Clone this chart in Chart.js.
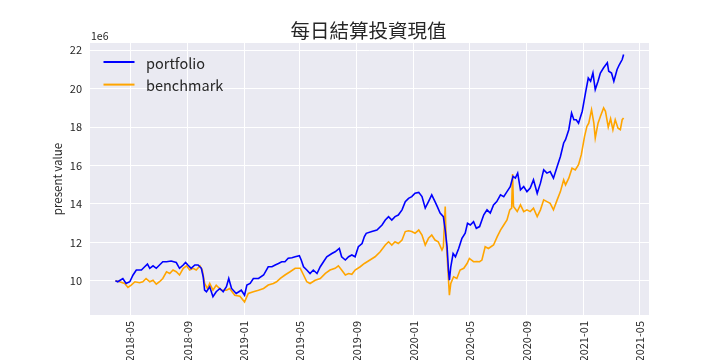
<!DOCTYPE html>
<html><head><meta charset="utf-8">
<script src="https://cdn.jsdelivr.net/npm/chart.js@4.4.1/dist/chart.umd.min.js"></script>
<style>html,body{margin:0;padding:0;background:#fff}canvas{display:block}</style>
</head><body>
<canvas id="c" width="720" height="360"></canvas>
<script>
const chartTitle = '每日結算投資現值';
const yAxisLabel = 'present value';
const yOffsetLabel = '1e6';
const seriesNames = ['portfolio', 'benchmark'];
const xTickLabels = ['2018-05','2018-09','2019-01','2019-05','2019-09','2020-01','2020-05','2020-09','2021-01','2021-05'];
const yTickValues = [10, 12, 14, 16, 18, 20, 22];

// values in units of 1e6
const portfolioDates = ['2018-03-30','2018-04-04','2018-04-15','2018-04-22','2018-04-30','2018-05-07','2018-05-14','2018-05-25','2018-06-01','2018-06-07','2018-06-12','2018-06-19','2018-06-26','2018-07-03','2018-07-10','2018-07-18','2018-07-28','2018-08-08','2018-08-15','2018-08-23','2018-08-28','2018-09-02','2018-09-09','2018-09-17','2018-09-24','2018-10-01','2018-10-05','2018-10-08','2018-10-12','2018-10-19','2018-10-26','2018-11-02','2018-11-10','2018-11-17','2018-11-24','2018-11-29','2018-12-05','2018-12-15','2018-12-26','2019-01-02','2019-01-07','2019-01-14','2019-01-21','2019-02-01','2019-02-12','2019-02-22','2019-03-02','2019-03-09','2019-03-16','2019-03-23','2019-03-30','2019-04-06','2019-04-14','2019-04-21','2019-04-30','2019-05-04','2019-05-09','2019-05-16','2019-05-23','2019-05-30','2019-06-07','2019-06-14','2019-06-21','2019-06-28','2019-07-09','2019-07-16','2019-07-25','2019-07-30','2019-08-07','2019-08-14','2019-08-21','2019-08-28','2019-09-04','2019-09-12','2019-09-17','2019-09-21','2019-10-03','2019-10-14','2019-10-25','2019-11-01','2019-11-08','2019-11-15','2019-11-22','2019-11-29','2019-12-07','2019-12-14','2019-12-21','2019-12-28','2020-01-04','2020-01-12','2020-01-19','2020-01-26','2020-02-02','2020-02-09','2020-02-16','2020-02-21','2020-02-27','2020-03-05','2020-03-09','2020-03-13','2020-03-16','2020-03-18','2020-03-21','2020-03-26','2020-03-31','2020-04-07','2020-04-14','2020-04-21','2020-04-26','2020-05-02','2020-05-09','2020-05-15','2020-05-22','2020-05-31','2020-06-07','2020-06-14','2020-06-21','2020-06-28','2020-07-06','2020-07-13','2020-07-20','2020-07-27','2020-08-02','2020-08-07','2020-08-12','2020-08-18','2020-08-25','2020-09-01','2020-09-08','2020-09-15','2020-09-23','2020-09-30','2020-10-07','2020-10-14','2020-10-21','2020-10-28','2020-11-05','2020-11-12','2020-11-19','2020-11-23','2020-11-30','2020-12-06','2020-12-11','2020-12-16','2020-12-21','2020-12-29','2021-01-05','2021-01-11','2021-01-16','2021-01-21','2021-01-26','2021-02-01','2021-02-06','2021-02-13','2021-02-21','2021-02-24','2021-03-02','2021-03-07','2021-03-14','2021-03-19','2021-03-25','2021-03-28'];
const portfolioValues = [10.00,9.95,10.12,9.86,9.95,10.30,10.56,10.56,10.73,10.87,10.65,10.78,10.65,10.82,10.99,10.99,11.03,10.95,10.65,10.82,10.95,10.82,10.65,10.82,10.82,10.65,10.21,9.51,9.43,9.69,9.17,9.43,9.60,9.43,9.69,10.12,9.60,9.34,9.51,9.25,9.78,9.86,10.12,10.12,10.30,10.73,10.73,10.82,10.90,10.99,10.99,11.17,11.20,11.25,11.30,11.08,10.73,10.56,10.38,10.56,10.38,10.73,10.99,11.25,11.42,11.51,11.68,11.25,11.08,11.25,11.34,11.25,11.77,11.94,12.30,12.47,12.56,12.64,12.90,13.16,13.34,13.16,13.34,13.42,13.69,14.12,14.29,14.38,14.56,14.60,14.38,13.78,14.12,14.47,14.12,13.86,13.52,13.34,12.64,11.77,10.56,10.03,10.73,11.42,11.25,11.68,12.21,12.47,12.99,12.90,13.08,12.73,12.82,13.43,13.69,13.52,13.95,14.12,14.47,14.38,14.64,14.90,15.43,15.34,15.60,14.73,14.90,14.64,14.82,15.25,14.55,15.08,15.77,15.60,15.68,15.34,15.95,16.47,17.17,17.34,17.86,18.73,18.38,18.38,18.20,18.82,19.77,20.55,20.38,20.81,19.95,20.38,20.81,21.08,21.34,20.90,20.81,20.38,20.99,21.25,21.51,21.77];

const benchmarkDates = ['2018-03-30','2018-04-08','2018-04-19','2018-04-26','2018-05-03','2018-05-11','2018-05-21','2018-05-28','2018-06-04','2018-06-12','2018-06-19','2018-06-26','2018-07-03','2018-07-10','2018-07-18','2018-07-25','2018-08-01','2018-08-08','2018-08-15','2018-08-23','2018-08-30','2018-09-06','2018-09-13','2018-09-20','2018-09-28','2018-10-03','2018-10-08','2018-10-14','2018-10-19','2018-10-26','2018-11-02','2018-11-13','2018-11-24','2018-12-01','2018-12-12','2018-12-23','2019-01-02','2019-01-10','2019-01-21','2019-02-01','2019-02-12','2019-02-22','2019-03-05','2019-03-12','2019-03-20','2019-03-30','2019-04-10','2019-04-21','2019-05-02','2019-05-09','2019-05-16','2019-05-23','2019-06-03','2019-06-14','2019-06-25','2019-07-05','2019-07-16','2019-07-23','2019-07-30','2019-08-07','2019-08-14','2019-08-21','2019-08-28','2019-09-08','2019-09-17','2019-09-29','2019-10-10','2019-10-21','2019-11-01','2019-11-08','2019-11-15','2019-11-22','2019-11-29','2019-12-07','2019-12-14','2019-12-21','2019-12-28','2020-01-04','2020-01-12','2020-01-19','2020-01-26','2020-02-02','2020-02-09','2020-02-16','2020-02-23','2020-03-02','2020-03-05','2020-03-09','2020-03-11','2020-03-14','2020-03-18','2020-03-21','2020-03-27','2020-04-03','2020-04-10','2020-04-18','2020-04-25','2020-04-30','2020-05-09','2020-05-16','2020-05-22','2020-05-27','2020-06-03','2020-06-10','2020-06-21','2020-06-29','2020-07-06','2020-07-13','2020-07-20','2020-07-26','2020-07-30','2020-08-01','2020-08-03','2020-08-11','2020-08-18','2020-08-25','2020-09-01','2020-09-08','2020-09-15','2020-09-23','2020-09-30','2020-10-07','2020-10-14','2020-10-21','2020-10-28','2020-11-05','2020-11-12','2020-11-19','2020-11-23','2020-11-30','2020-12-07','2020-12-14','2020-12-21','2020-12-27','2021-01-03','2021-01-08','2021-01-12','2021-01-18','2021-01-23','2021-01-26','2021-02-01','2021-02-06','2021-02-13','2021-02-17','2021-02-23','2021-02-28','2021-03-05','2021-03-10','2021-03-16','2021-03-21','2021-03-25','2021-03-28'];
const benchmarkValues = [10.00,9.95,9.86,9.65,9.77,9.95,9.90,9.95,10.12,9.95,10.03,9.82,9.95,10.12,10.47,10.38,10.56,10.47,10.30,10.65,10.78,10.56,10.65,10.56,10.78,10.56,9.86,9.60,9.86,9.51,9.77,9.51,9.51,9.60,9.25,9.20,8.90,9.34,9.43,9.51,9.60,9.78,9.86,9.95,10.12,10.30,10.47,10.65,10.65,10.30,9.95,9.86,10.03,10.12,10.38,10.56,10.65,10.78,10.56,10.30,10.38,10.34,10.56,10.73,10.90,11.08,11.25,11.51,11.86,12.03,11.86,12.03,11.94,12.12,12.56,12.60,12.56,12.47,12.64,12.38,11.86,12.21,12.38,12.12,12.03,11.60,11.77,13.86,12.12,10.90,9.25,9.86,10.21,10.12,10.56,10.65,10.90,11.16,10.99,11.00,10.99,11.08,11.77,11.68,11.86,12.30,12.64,12.90,13.16,13.69,13.78,15.55,13.86,13.60,13.95,13.60,13.69,13.60,13.78,13.34,13.69,14.21,14.12,14.03,13.69,14.21,14.64,15.25,14.99,15.34,15.86,15.77,16.04,16.56,17.51,18.03,18.20,18.90,18.20,17.43,18.20,18.55,18.99,18.82,17.99,18.43,17.86,18.38,17.94,17.86,18.38,18.47];

const seriesColors = ['#0000ff', '#ffa500'];
const FONT = "'Noto Sans CJK TC', 'Noto Sans', sans-serif";
const TEXT = '#262626';

const toPoints = (ds, vs) => ds.map((d, i) => ({ x: Date.parse(d), y: vs[i] }));
const allX = portfolioDates.concat(benchmarkDates).map(d => Date.parse(d));
const x0 = Math.min(...allX), x1 = Math.max(...allX), xPad = (x1 - x0) * 0.05;

const bgPlugin = {
  id: 'bg',
  beforeDraw(chart) {
    const { ctx, chartArea: a } = chart;
    ctx.save();
    ctx.fillStyle = '#EAEAF2';
    ctx.fillRect(a.left, a.top, a.right - a.left, a.bottom - a.top);
    ctx.restore();
  }
};

const decorPlugin = {
  id: 'decor',
  afterDatasetsDraw(chart) {
    const { ctx, chartArea: a } = chart;
    ctx.save();
    // legend inside axes
    chart.data.datasets.forEach((ds, i) => {
      const y = a.top + 19 + i * 22.6;
      ctx.strokeStyle = ds.borderColor;
      ctx.lineWidth = 2;
      ctx.beginPath();
      ctx.moveTo(a.left + 13.5, y);
      ctx.lineTo(a.left + 44.5, y);
      ctx.stroke();
      ctx.fillStyle = TEXT;
      ctx.font = '14.5px ' + FONT;
      ctx.textAlign = 'left';
      ctx.textBaseline = 'middle';
      ctx.fillText(ds.label, a.left + 56, y + 1);
    });
    // title
    ctx.fillStyle = TEXT;
    ctx.font = '19.5px ' + FONT;
    ctx.textAlign = 'center';
    ctx.textBaseline = 'middle';
    ctx.fillText(chartTitle, (a.left + a.right) / 2 - 1, 31);
    // offset label
    ctx.font = '10.5px ' + FONT;
    ctx.textAlign = 'left';
    ctx.fillText(yOffsetLabel, a.left + 1, 36.5);
    ctx.restore();
  }
};

new Chart(document.getElementById('c'), {
  type: 'line',
  data: {
    datasets: [
      { label: seriesNames[0], data: toPoints(portfolioDates, portfolioValues), borderColor: seriesColors[0], backgroundColor: seriesColors[0] },
      { label: seriesNames[1], data: toPoints(benchmarkDates, benchmarkValues), borderColor: seriesColors[1], backgroundColor: seriesColors[1] }
    ]
  },
  options: {
    responsive: false,
    animation: false,
    devicePixelRatio: 1,
    layout: { padding: { left: 0, top: 43, right: 71, bottom: 0 } },
    elements: { line: { borderWidth: 1.6, tension: 0 }, point: { radius: 0 } },
    plugins: { legend: { display: false }, title: { display: false }, tooltip: { enabled: false } },
    scales: {
      x: {
        type: 'linear',
        min: x0 - xPad,
        max: x1 + xPad,
        afterBuildTicks: s => { s.ticks = xTickLabels.map(l => ({ value: Date.parse(l + '-01') })); },
        afterFit: s => { s.height = 45; },
        ticks: {
          autoSkip: false, minRotation: 90, maxRotation: 90, padding: 6,
          color: TEXT, font: { family: FONT, size: 11 },
          callback: (v, i) => xTickLabels[i]
        },
        grid: { color: '#ffffff', lineWidth: 1, drawTicks: false },
        border: { display: false }
      },
      y: {
        type: 'linear',
        min: 8.22,
        max: 22.37,
        afterBuildTicks: s => { s.ticks = yTickValues.map(v => ({ value: v })); },
        afterFit: s => { s.width = 90; },
        ticks: { padding: 8, color: TEXT, font: { family: FONT, size: 11 }, callback: v => String(v) },
        grid: { color: '#ffffff', lineWidth: 1, drawTicks: false },
        border: { display: false },
        title: { display: true, text: yAxisLabel, color: TEXT, font: { family: FONT, size: 11.5 }, padding: { top: 51, bottom: 0 } }
      }
    }
  },
  plugins: [bgPlugin, decorPlugin]
});
</script>
</body></html>
